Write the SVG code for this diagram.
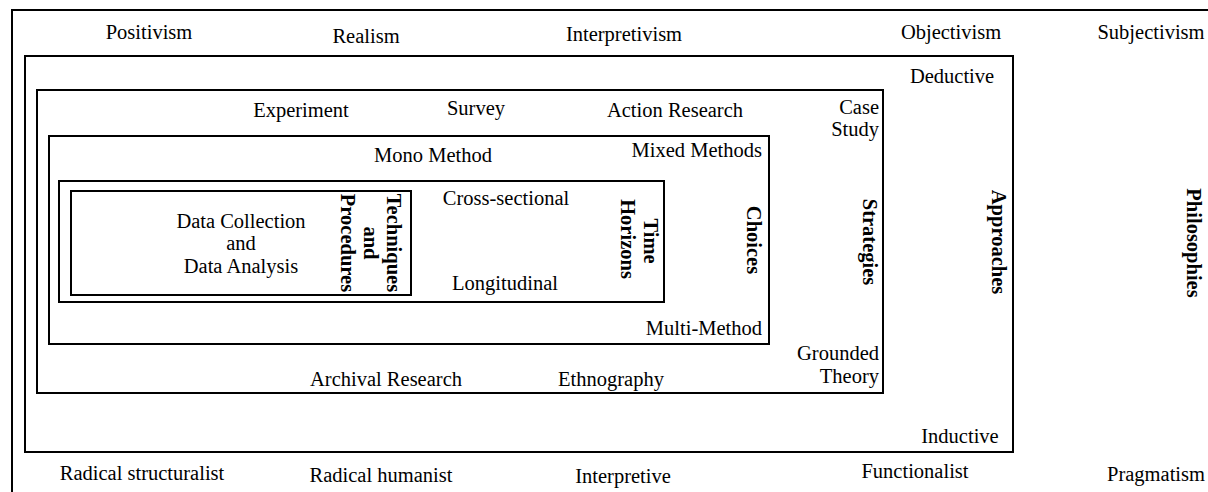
<svg xmlns="http://www.w3.org/2000/svg" width="1208" height="492" viewBox="0 0 1208 492">
  <style>
    .frame { fill: none; stroke: #000; stroke-width: 2; }
    text { font-family: "Liberation Serif", "Times New Roman", serif; font-size: 20.5px; fill: #000; }
    .c { text-anchor: middle; }
    .r { text-anchor: end; }
    .title { font-weight: bold; text-anchor: middle; }
  </style>
  <rect width="1208" height="492" fill="#fff"/>

  <!-- Research onion: nested layers, outermost first -->
  <g id="philosophies">
    <rect class="frame" x="12" y="10" width="1210" height="500"/>
    <text class="c" x="149" y="39">Positivism</text>
    <text class="c" x="366" y="43">Realism</text>
    <text class="c" x="624" y="41">Interpretivism</text>
    <text class="c" x="951" y="39">Objectivism</text>
    <text class="c" x="1151" y="39">Subjectivism</text>
    <text class="c" x="142" y="480">Radical structuralist</text>
    <text class="c" x="381" y="482">Radical humanist</text>
    <text class="c" x="623" y="483">Interpretive</text>
    <text class="c" x="915" y="478">Functionalist</text>
    <text class="c" x="1156" y="481">Pragmatism</text>
    <text class="title" transform="translate(1187,243) rotate(90)">Philosophies</text>
  </g>

  <g id="approaches">
    <rect class="frame" x="25" y="56" width="988" height="396"/>
    <text class="c" x="952" y="83">Deductive</text>
    <text class="c" x="960" y="443">Inductive</text>
    <text class="title" transform="translate(992,242) rotate(90)">Approaches</text>
  </g>

  <g id="strategies">
    <rect class="frame" x="37" y="90" width="846" height="303"/>
    <text class="c" x="301" y="117">Experiment</text>
    <text class="c" x="476" y="115">Survey</text>
    <text class="c" x="675" y="117">Action Research</text>
    <text class="r" x="879" y="114">Case</text>
    <text class="r" x="879" y="136">Study</text>
    <text class="r" x="879" y="360">Grounded</text>
    <text class="r" x="879" y="383">Theory</text>
    <text class="c" x="386" y="386">Archival Research</text>
    <text class="c" x="611" y="386">Ethnography</text>
    <text class="title" transform="translate(863,242) rotate(90)">Strategies</text>
  </g>

  <g id="choices">
    <rect class="frame" x="49" y="136" width="720" height="208"/>
    <text class="c" x="433" y="162">Mono Method</text>
    <text class="r" x="762" y="157">Mixed Methods</text>
    <text class="r" x="762" y="335">Multi-Method</text>
    <text class="title" transform="translate(747,240) rotate(90)">Choices</text>
  </g>

  <g id="time-horizons">
    <rect class="frame" x="59" y="181" width="605" height="121"/>
    <text class="c" x="506" y="205">Cross-sectional</text>
    <text class="c" x="505" y="290">Longitudinal</text>
    <text class="title" transform="translate(644,241) rotate(90)">Time</text>
    <text class="title" transform="translate(621,239) rotate(90)">Horizons</text>
  </g>

  <g id="techniques">
    <rect class="frame" x="71" y="191" width="340" height="104"/>
    <text class="c" x="241" y="228">Data Collection</text>
    <text class="c" x="241" y="250">and</text>
    <text class="c" x="241" y="273">Data Analysis</text>
    <text class="title" transform="translate(387,243) rotate(90)">Techniques</text>
    <text class="title" transform="translate(364,243) rotate(90)">and</text>
    <text class="title" transform="translate(341,243) rotate(90)">Procedures</text>
  </g>

  <!-- no connectors in this diagram -->
  <g id="connectors"/>
</svg>
